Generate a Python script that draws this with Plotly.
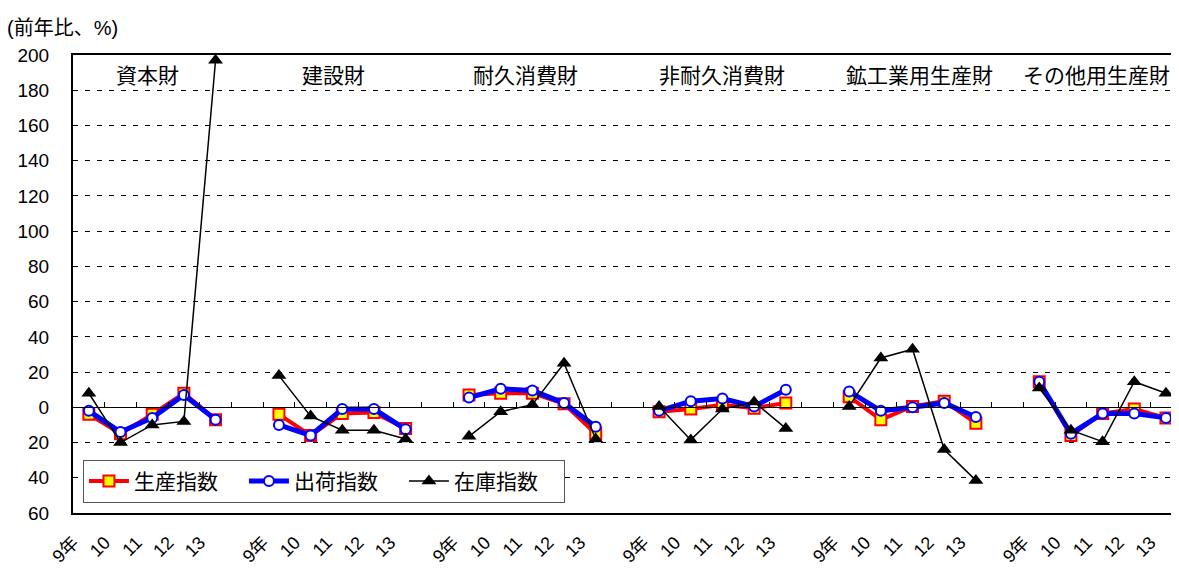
import plotly.graph_objects as go

groups = ["資本財", "建設財", "耐久消費財", "非耐久消費財", "鉱工業用生産財", "その他用生産財"]
years = ["9年", "10", "11", "12", "13"]

production = [
    [-4, -15, -4, 8, -7],
    [-4, -16, -3.5, -3, -12],
    [7, 8, 8, 2, -15],
    [-2.5, -1, 1.5, -0.5, 2.5],
    [6, -7, 0.5, 3.5, -9],
    [14.5, -16, -3.5, -1, -6],
]
shipment = [
    [-2, -14, -6, 7, -7],
    [-10, -16, -1, -1, -12.5],
    [5.5, 10.5, 9.5, 2.5, -11],
    [-2, 3.5, 5, 0.5, 10],
    [9, -2, 0, 2.5, -5.5],
    [14.5, -15, -3.5, -3.5, -6],
]
inventory = [
    [8, -20, -10, -8, 197],
    [18, -5, -13, -13, -18],
    [-16.5, -2.5, 1.5, 25, -18],
    [0.5, -18.5, -1, 3, -12],
    [0.5, 28, 33, -24, -41.5],
    [11, -13, -19.5, 14.5, 8],
]
y_ticks = list(range(-60, 201, 20))
y_ticktext = [str(abs(v)) for v in y_ticks]

slot = len(years) + 1  # one blank category between groups
x_all, labels_all = [], []
for g in range(len(groups)):
    for i, yr in enumerate(years):
        x_all.append(g * slot + i)
        labels_all.append(yr)


def flat(series):
    out_x, out_y = [], []
    for g, vals in enumerate(series):
        for i, v in enumerate(vals):
            out_x.append(g * slot + i)
            out_y.append(v)
        out_x.append(g * slot + len(vals))
        out_y.append(None)
    return out_x, out_y


FONT = "Liberation Sans, Noto Sans CJK JP, sans-serif"
fig = go.Figure()

px_, py_ = flat(production)
fig.add_trace(go.Scatter(
    x=px_, y=py_, name="生産指数", mode="lines+markers",
    line=dict(color="#ff0000", width=4),
    marker=dict(symbol="square", size=11, color="#ffff00", line=dict(color="#ff0000", width=2)),
))
sx_, sy_ = flat(shipment)
fig.add_trace(go.Scatter(
    x=sx_, y=sy_, name="出荷指数", mode="lines+markers",
    line=dict(color="#0000ff", width=5),
    marker=dict(symbol="circle", size=10, color="#ffffff", line=dict(color="#0000ff", width=2)),
))
ix_, iy_ = flat(inventory)
fig.add_trace(go.Scatter(
    x=ix_, y=iy_, name="在庫指数", mode="lines+markers",
    line=dict(color="#000000", width=1.5),
    marker=dict(symbol="triangle-up", size=13, color="#000000"),
))

x_lo = -0.5
x_hi = -0.5 + 1106 / 31.68

# the page body has an 8px default margin, compensate for it
fig.update_layout(
    width=1179, height=568,
    margin=dict(l=65, r=8, t=47, b=63, autoexpand=False),
    paper_bgcolor="white", plot_bgcolor="white",
    font=dict(family=FONT, size=18, color="black"),
    showlegend=True,
    legend=dict(
        orientation="h", x=0.009, y=0.022, xanchor="left", yanchor="bottom",
        bordercolor="#555555", borderwidth=1, bgcolor="white",
        font=dict(size=21, family=FONT), entrywidth=105, itemwidth=40,
        tracegroupgap=0,
    ),
    xaxis=dict(
        range=[x_lo, x_hi], tickmode="array", automargin=False,
        tickvals=[v - 0.49 for v in x_all], ticktext=labels_all,
        tickangle=-45, ticks="", showgrid=False, zeroline=False,
        showline=True, linecolor="black", linewidth=2, mirror=True,
        ticklabelstandoff=10, tickfont=dict(size=18),
    ),
    xaxis2=dict(
        overlaying="x", matches="x", anchor="free", automargin=False,
        position=60 / 260, side="bottom",
        range=[x_lo, x_hi], tickmode="array",
        tickvals=[k - 0.5 for k in range(0, 40)],
        showticklabels=False, ticks="inside", ticklen=5, tickcolor="black",
        showline=True, linecolor="black", linewidth=1,
        showgrid=False, zeroline=False,
    ),
    yaxis=dict(
        range=[-60, 200], tickmode="array", tickvals=y_ticks, ticktext=y_ticktext,
        automargin=False,
        showgrid=True, gridcolor="black", gridwidth=1, griddash="5px,7px",
        zeroline=False, showline=True, linecolor="black", linewidth=2,
        ticks="", ticklabelstandoff=18, tickfont=dict(size=19),
    ),
)
# dummy trace on xaxis2 so that the axis is rendered
fig.add_trace(go.Scatter(x=[x_lo], y=[None], xaxis="x2", showlegend=False, hoverinfo="skip"))

title_shift = [-5, -9, -7, 0, 7, -6]
for g, name in enumerate(groups):
    fig.add_annotation(
        x=g * slot + 2, y=(513 - 75) / 458, xref="x", yref="paper",
        text=name, showarrow=False, font=dict(size=21, family=FONT),
        xanchor="center", yanchor="middle", xshift=title_shift[g],
    )
fig.add_annotation(
    x=(5 - 73) / 1106, y=(513 - 28) / 458, xref="paper", yref="paper",
    text="(前年比、%)", showarrow=False, font=dict(size=20, family=FONT),
    xanchor="left", yanchor="middle",
)

fig.write_html("out.html")
